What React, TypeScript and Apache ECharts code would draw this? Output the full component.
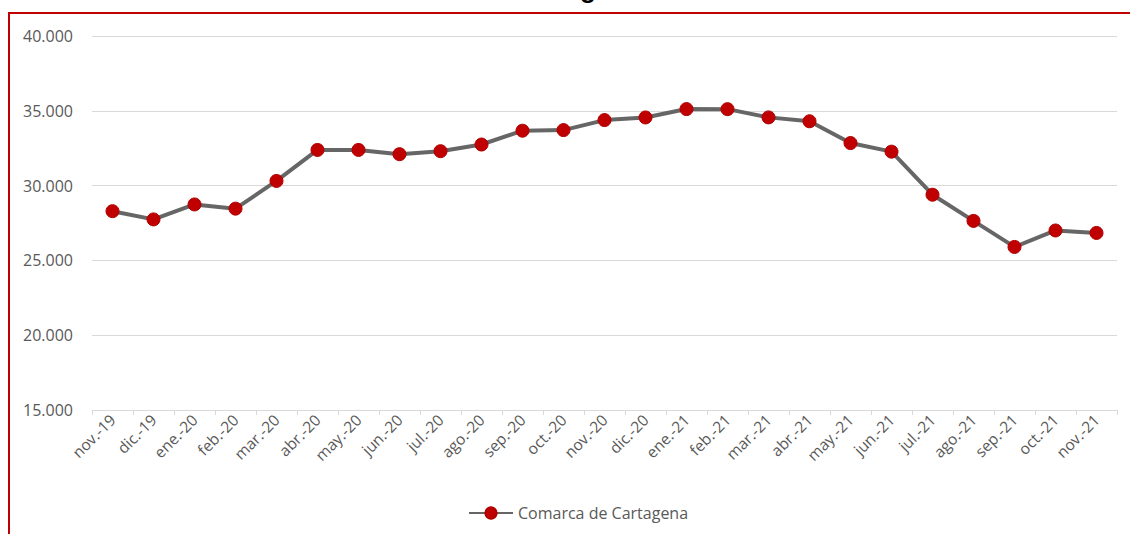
import React, { useEffect, useRef } from "react";
import * as echarts from "echarts";

const categories = [
  "nov.-19", "dic.-19", "ene.-20", "feb.-20", "mar.-20", "abr.-20", "may.-20",
  "jun.-20", "jul.-20", "ago.-20", "sep.-20", "oct.-20", "nov.-20", "dic.-20",
  "ene.-21", "feb.-21", "mar.-21", "abr.-21", "may.-21", "jun.-21", "jul.-21",
  "ago.-21", "sep.-21", "oct.-21", "nov.-21",
];

const comarcaCartagena = [
  28290, 27740, 28740, 28460, 30310, 32385, 32385, 32100, 32300, 32746,
  33670, 33710, 34380, 34555, 35115, 35110, 34560, 34300, 32845, 32270,
  29390, 27640, 25900, 27000, 26835,
];

const seriesName = "Comarca de Cartagena";
const titleText = "Cartagena";

const fmt = (v: number) => String(v).replace(/\B(?=(\d{3})+(?!\d))/g, ".");

export default function App() {
  const ref = useRef<HTMLDivElement>(null);
  useEffect(() => {
    if (!ref.current) return;
    const chart = echarts.init(ref.current, undefined, { renderer: "svg" });
    const font = "'Open Sans', 'Noto Sans', sans-serif";
    chart.setOption({
      animation: false,
      backgroundColor: "#ffffff",
      textStyle: { fontFamily: font },
      graphic: [
        {
          type: "text",
          x: 577,
          y: 2,
          style: {
            text: titleText,
            font: "bold 26px 'Liberation Sans', sans-serif",
            fill: "#000000",
            align: "center",
            verticalAlign: "bottom",
          },
        },
        { type: "line", shape: { x1: 8, y1: 13, x2: 1130, y2: 13 }, style: { stroke: "#c00000", lineWidth: 2 } },
        { type: "line", shape: { x1: 9, y1: 12, x2: 9, y2: 534 }, style: { stroke: "#c00000", lineWidth: 2 } },
      ],
      grid: { left: 92, right: 13, top: 36, bottom: 124 },
      legend: {
        bottom: 8,
        left: 463,
        itemWidth: 44,
        itemHeight: 14,
        itemGap: 4,
        textStyle: { color: "#595959", fontSize: 16, fontFamily: font },
        data: [seriesName],
      },
      xAxis: {
        type: "category",
        data: categories,
        boundaryGap: true,
        axisLine: { lineStyle: { color: "#d9d9d9", width: 1 } },
        axisTick: { show: true, length: 5, lineStyle: { color: "#d9d9d9" } },
        axisLabel: { rotate: 45, color: "#595959", fontSize: 15.5, margin: 7, interval: 0, fontFamily: font },
      },
      yAxis: {
        type: "value",
        min: 15000,
        max: 40000,
        interval: 5000,
        axisLine: { show: false },
        axisTick: { show: false },
        splitLine: { lineStyle: { color: "#d9d9d9", width: 1 } },
        axisLabel: { color: "#595959", fontSize: 16, margin: 19, formatter: (v: number) => fmt(v), fontFamily: font },
      },
      series: [
        {
          name: seriesName,
          type: "line",
          data: comarcaCartagena,
          symbol: "circle",
          symbolSize: 13,
          lineStyle: { color: "#666666", width: 4 },
          itemStyle: { color: "#c00000", borderColor: "#b00000", borderWidth: 1 },
        },
      ],
    });
    return () => chart.dispose();
  }, []);
  return (
    <div
      ref={ref}
      style={{ position: "fixed", left: 0, top: 0, width: 1130, height: 534 }}
    />
  );
}
